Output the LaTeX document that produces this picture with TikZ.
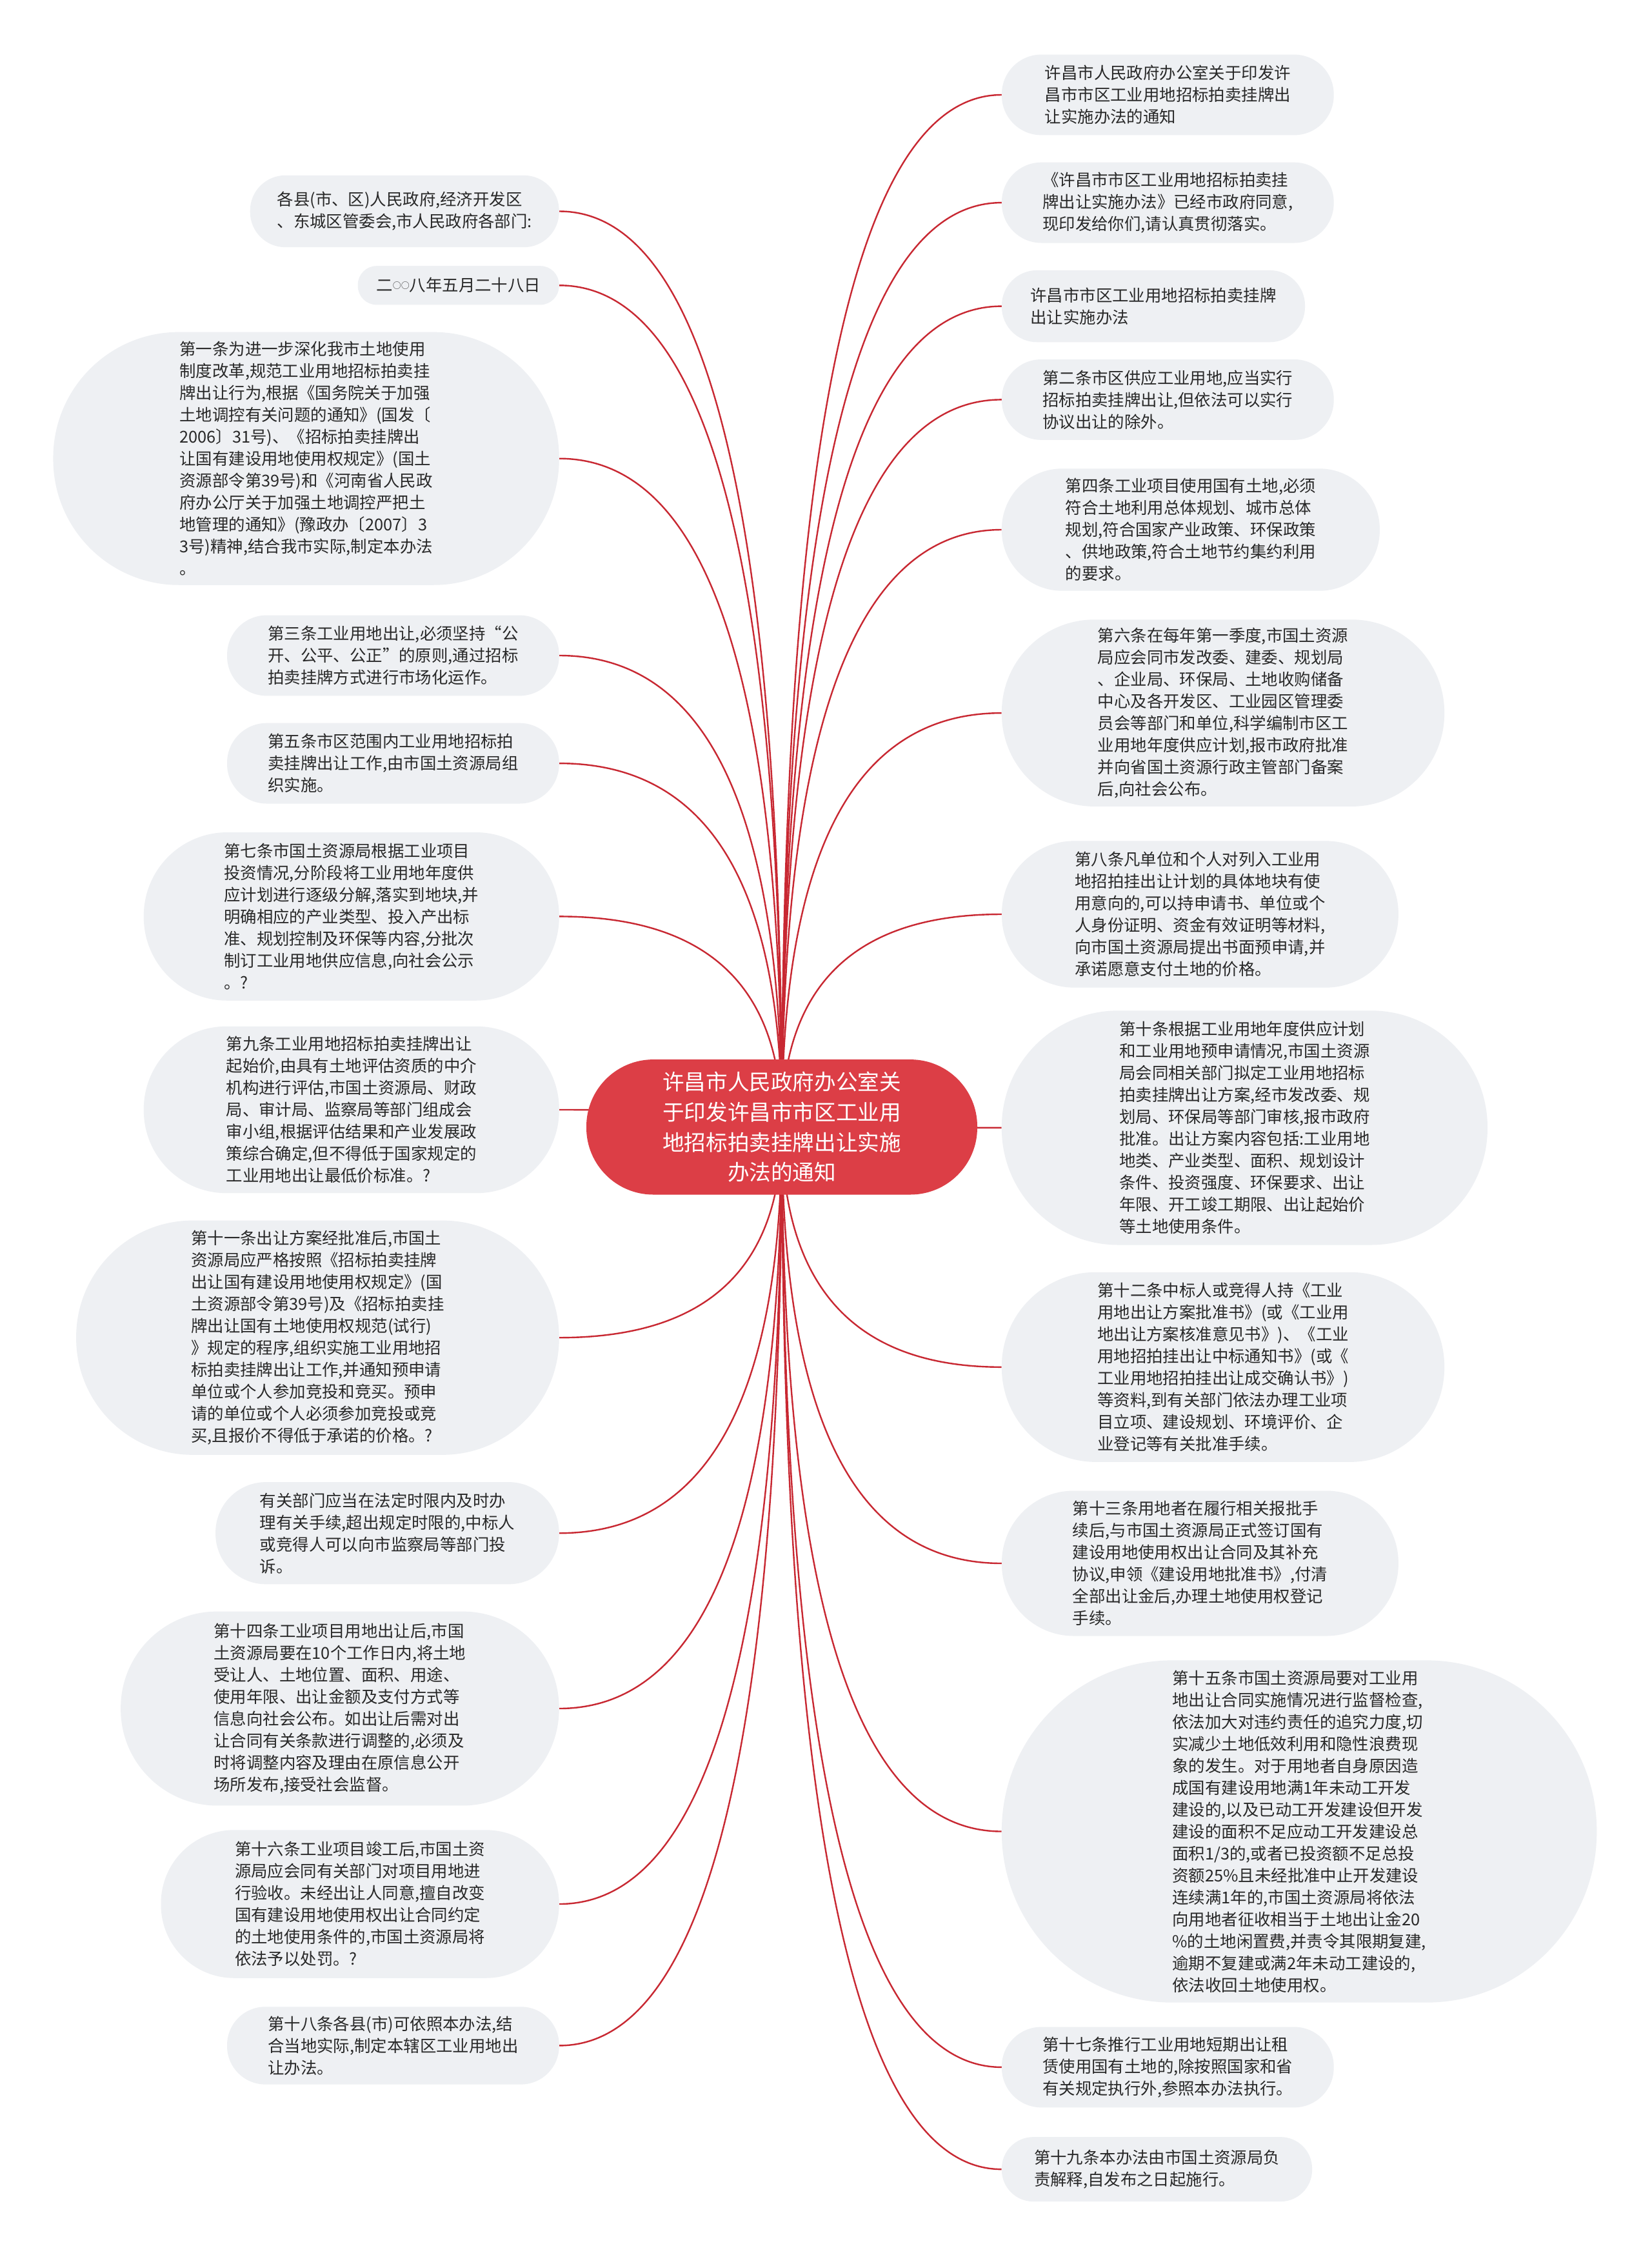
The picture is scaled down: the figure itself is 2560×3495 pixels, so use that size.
\documentclass[tikz,border=0pt]{standalone}
\usepackage{fontspec}
\setmainfont{Noto Sans CJK SC}
\usetikzlibrary{calc}
\pgfdeclarelayer{background}
\pgfsetlayers{background,main}
\definecolor{leaffill}{RGB}{238,240,243}
\definecolor{rootfill}{RGB}{220,62,70}
\definecolor{linkred}{RGB}{200,40,50}
\definecolor{txt}{RGB}{40,40,40}
\tikzset{
  leaf/.style={fill=leaffill, text=txt, align=left, inner sep=0pt, font={\fontsize{25.4}{34}\selectfont}},
  sz/.style 2 args={minimum width=#1pt, minimum height=#2pt, rounded corners=#2*0.5pt-1pt},
  root/.style={fill=rootfill, text=white, align=center, inner sep=0pt, font={\fontsize{33.6}{46.8}\selectfont}},
  conn/.style={draw=linkred, line width=2.4pt}
}
\newcommand\linkR[1]{\draw[conn] (C.center) .. controls ($(C.center)!0.667!(C.center |- #1.west)$) and ($(#1.west)!0.667!(C.center |- #1.west)$) .. (#1.west);}
\newcommand\linkL[1]{\draw[conn] (C.center) .. controls ($(C.center)!0.667!(C.center |- #1.east)$) and ($(#1.east)!0.667!(C.center |- #1.east)$) .. (#1.east);}
\begin{document}
\begin{tikzpicture}[x=1pt,y=-1pt]
\useasboundingbox (0,0) rectangle (2560,3495);
\begin{pgfonlayer}{background}
\fill[white] (0,0) rectangle (2560,3495);
\end{pgfonlayer}

% root
\node[root, minimum width=606pt, minimum height=209.4pt, rounded corners=103.7pt] (C) at (1212,1746.8) {许昌市人民政府办公室关\\于印发许昌市市区工业用\\地招标拍卖挂牌出让实施\\办法的通知};

% right side
\node[leaf, sz={514.7}{124.8}] (R1) at (1810.3,147.0) {许昌市人民政府办公室关于印发许\\昌市市区工业用地招标拍卖挂牌出\\让实施办法的通知};
\node[leaf, sz={514.7}{124.8}] (R2) at (1810.3,314.1) {《许昌市市区工业用地招标拍卖挂\\牌出让实施办法》已经市政府同意,\\现印发给你们,请认真贯彻落实。};
\node[leaf, sz={470.1}{111.4}] (R3) at (1788.0,474.6) {许昌市市区工业用地招标拍卖挂牌\\出让实施办法};
\node[leaf, sz={514.7}{124.8}] (R4) at (1810.3,619.4) {第二条市区供应工业用地,应当实行\\招标拍卖挂牌出让,但依法可以实行\\协议出让的除外。};
\node[leaf, sz={586.0}{189.4}] (R5) at (1845.9,821.0) {第四条工业项目使用国有土地,必须\\符合土地利用总体规划、城市总体\\规划,符合国家产业政策、环保政策\\、供地政策,符合土地节约集约利用\\的要求。};
\node[leaf, sz={686.2}{289.6}] (R6) at (1896.0,1105.1) {第六条在每年第一季度,市国土资源\\局应会同市发改委、建委、规划局\\、企业局、环保局、土地收购储备\\中心及各开发区、工业园区管理委\\员会等部门和单位,科学编制市区工\\业用地年度供应计划,报市政府批准\\并向省国土资源行政主管部门备案\\后,向社会公布。};
\node[leaf, sz={614.9}{227.3}] (R7) at (1860.4,1417.0) {第八条凡单位和个人对列入工业用\\地招拍挂出让计划的具体地块有使\\用意向的,可以持申请书、单位或个\\人身份证明、资金有效证明等材料,\\向市国土资源局提出书面预申请,并\\承诺愿意支付土地的价格。};
\node[leaf, sz={753.1}{363.2}] (R8) at (1929.4,1747.9) {第十条根据工业用地年度供应计划\\和工业用地预申请情况,市国土资源\\局会同相关部门拟定工业用地招标\\拍卖挂牌出让方案,经市发改委、规\\划局、环保局等部门审核,报市政府\\批准。出让方案内容包括:工业用地\\地类、产业类型、面积、规划设计\\条件、投资强度、环保要求、出让\\年限、开工竣工期限、出让起始价\\等土地使用条件。};
\node[leaf, sz={686.2}{294.1}] (R9) at (1896.0,2118.8) {第十二条中标人或竞得人持《工业\\用地出让方案批准书》(或《工业用\\地出让方案核准意见书》)、《工业\\用地招拍挂出让中标通知书》(或《\\工业用地招拍挂出让成交确认书》)\\等资料,到有关部门依法办理工业项\\目立项、建设规划、环境评价、企\\业登记等有关批准手续。};
\node[leaf, sz={614.9}{225.0}] (R10) at (1860.4,2423.0) {第十三条用地者在履行相关报批手\\续后,与市国土资源局正式签订国有\\建设用地使用权出让合同及其补充\\协议,申领《建设用地批准书》,付清\\全部出让金后,办理土地使用权登记\\手续。};
\node[leaf, sz={922.4}{530.3}] (R11) at (2014.1,2838.5) {第十五条市国土资源局要对工业用\\地出让合同实施情况进行监督检查,\\依法加大对违约责任的追究力度,切\\实减少土地低效利用和隐性浪费现\\象的发生。对于用地者自身原因造\\成国有建设用地满1年未动工开发\\建设的,以及已动工开发建设但开发\\建设的面积不足应动工开发建设总\\面积1/3的,或者已投资额不足总投\\资额25\%且未经批准中止开发建设\\连续满1年的,市国土资源局将依法\\向用地者征收相当于土地出让金20\\\%的土地闲置费,并责令其限期复建,\\逾期不复建或满2年未动工建设的,\\依法收回土地使用权。};
\node[leaf, sz={514.7}{124.8}] (R12) at (1810.3,3203.9) {第十七条推行工业用地短期出让租\\赁使用国有土地的,除按照国家和省\\有关规定执行外,参照本办法执行。};
\node[leaf, sz={481.2}{100.0}] (R13) at (1793.5,3362.1) {第十九条本办法由市国土资源局负\\责解释,自发布之日起施行。};

% left side
\node[leaf, sz={479.0}{111.4}] (L1) at (627.2,327.5) {各县(市、区)人民政府,经济开发区\\、东城区管委会,市人民政府各部门:};
\node[leaf, sz={311.9}{60.2}] (L2) at (710.7,442.3) {二{\fontsize{13}{13}\selectfont\raisebox{4.5pt}{○○}}八年五月二十八日};
\node[leaf, sz={784.3}{392.1}] (L3) at (474.6,710.7) {第一条为进一步深化我市土地使用\\制度改革,规范工业用地招标拍卖挂\\牌出让行为,根据《国务院关于加强\\土地调控有关问题的通知》(国发〔\\2006〕31号)、《招标拍卖挂牌出\\让国有建设用地使用权规定》(国土\\资源部令第39号)和《河南省人民政\\府办公厅关于加强土地调控严把土\\地管理的通知》(豫政办〔2007〕3\\3号)精神,结合我市实际,制定本办法\\。};
\node[leaf, sz={514.7}{124.8}] (L4) at (609.4,1016.0) {第三条工业用地出让,必须坚持“公\\开、公平、公正”的原则,通过招标\\拍卖挂牌方式进行市场化运作。};
\node[leaf, sz={514.7}{124.8}] (L5) at (609.4,1183.1) {第五条市区范围内工业用地招标拍\\卖挂牌出让工作,由市国土资源局组\\织实施。};
\node[leaf, sz={643.9}{260.7}] (L6) at (544.8,1420.4) {第七条市国土资源局根据工业项目\\投资情况,分阶段将工业用地年度供\\应计划进行逐级分解,落实到地块,并\\明确相应的产业类型、投入产出标\\准、规划控制及环保等内容,分批次\\制订工业用地供应信息,向社会公示\\。?};
\node[leaf, sz={643.9}{258.4}] (L7) at (544.8,1720.0) {第九条工业用地招标拍卖挂牌出让\\起始价,由具有土地评估资质的中介\\机构进行评估,市国土资源局、财政\\局、审计局、监察局等部门组成会\\审小组,根据评估结果和产业发展政\\策综合确定,但不得低于国家规定的\\工业用地出让最低价标准。?};
\node[leaf, sz={748.6}{363.2}] (L8) at (492.4,2073.2) {第十一条出让方案经批准后,市国土\\资源局应严格按照《招标拍卖挂牌\\出让国有建设用地使用权规定》(国\\土资源部令第39号)及《招标拍卖挂\\牌出让国有土地使用权规范(试行)\\》规定的程序,组织实施工业用地招\\标拍卖挂牌出让工作,并通知预申请\\单位或个人参加竞投和竞买。预申\\请的单位或个人必须参加竞投或竞\\买,且报价不得低于承诺的价格。?};
\node[leaf, sz={532.5}{158.2}] (L9) at (600.4,2376.2) {有关部门应当在法定时限内及时办\\理有关手续,超出规定时限的,中标人\\或竞得人可以向市监察局等部门投\\诉。};
\node[leaf, sz={679.5}{300.8}] (L10) at (526.9,2648.0) {第十四条工业项目用地出让后,市国\\土资源局要在10个工作日内,将土地\\受让人、土地位置、面积、用途、\\使用年限、出让金额及支付方式等\\信息向社会公布。如出让后需对出\\让合同有关条款进行调整的,必须及\\时将调整内容及理由在原信息公开\\场所发布,接受社会监督。};
\node[leaf, sz={617.2}{229.5}] (L11) at (558.1,2951.0) {第十六条工业项目竣工后,市国土资\\源局应会同有关部门对项目用地进\\行验收。未经出让人同意,擅自改变\\国有建设用地使用权出让合同约定\\的土地使用条件的,市国土资源局将\\依法予以处罚。?};
\node[leaf, sz={514.7}{120.3}] (L12) at (609.4,3170.4) {第十八条各县(市)可依照本办法,结\\合当地实际,制定本辖区工业用地出\\让办法。};

\begin{pgfonlayer}{background}
\linkR{R1}\linkR{R2}\linkR{R3}\linkR{R4}\linkR{R5}\linkR{R6}\linkR{R7}
\linkR{R8}\linkR{R9}\linkR{R10}\linkR{R11}\linkR{R12}\linkR{R13}
\linkL{L1}\linkL{L2}\linkL{L3}\linkL{L4}\linkL{L5}\linkL{L6}
\linkL{L7}\linkL{L8}\linkL{L9}\linkL{L10}\linkL{L11}\linkL{L12}
\end{pgfonlayer}
\end{tikzpicture}
\end{document}
